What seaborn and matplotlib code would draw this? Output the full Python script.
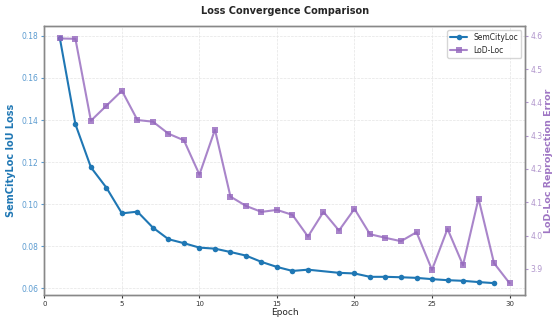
import matplotlib
matplotlib.use("Agg")
import matplotlib.pyplot as plt
import seaborn as sns
import pandas as pd

sns.set_style("whitegrid")
plt.rcParams['font.family'] = ['DejaVu Sans']

sem_epochs = [1, 2, 3, 4, 5, 6, 7, 8, 9, 10, 11, 12, 13, 14, 15, 16, 17,
              19, 20, 21, 22, 23, 24, 25, 26, 27, 28, 29]
sem_loss = [0.1788, 0.138, 0.1175, 0.1078, 0.0956, 0.0964, 0.0888, 0.0833,
            0.0814, 0.0793, 0.0788, 0.0772, 0.0755, 0.0725, 0.0701, 0.0682,
            0.0688, 0.0673, 0.0670, 0.0654, 0.0654, 0.0652, 0.0649, 0.0643,
            0.0638, 0.0635, 0.0629, 0.0624]

lod_epochs = list(range(1, 31))
lod_err = [4.592, 4.591, 4.345, 4.390, 4.435, 4.347, 4.342, 4.306, 4.286,
           4.183, 4.318, 4.117, 4.089, 4.071, 4.077, 4.062, 3.997, 4.071,
           4.015, 4.080, 4.004, 3.993, 3.983, 4.010, 3.897, 4.020, 3.911,
           4.111, 3.917, 3.857]

blue = "#1f77b4"
purple = "#9467bd"

sem_df = pd.DataFrame({"Epoch": sem_epochs, "Loss": sem_loss})
lod_df = pd.DataFrame({"Epoch": lod_epochs, "Err": lod_err})

fig, ax = plt.subplots(figsize=(5.55, 3.2), dpi=100)
ax2 = ax.twinx()

sns.lineplot(data=sem_df, x="Epoch", y="Loss", ax=ax, color=blue, marker="o",
             markersize=4, linewidth=1.5, markeredgewidth=0, label="SemCityLoc",
             legend=False)
sns.lineplot(data=lod_df, x="Epoch", y="Err", ax=ax2, color=purple, marker="s",
             markersize=5, linewidth=1.5, alpha=0.8, markeredgewidth=0,
             label="LoD-Loc", legend=False)

ax.set_xlim(0, 31)
ax.set_xticks([0, 5, 10, 15, 20, 25, 30])
ax.set_yticks([0.06, 0.08, 0.10, 0.12, 0.14, 0.16, 0.18])
ax2.set_yticks([3.9, 4.0, 4.1, 4.2, 4.3, 4.4, 4.5, 4.6])

ax.set_xlabel("Epoch", fontsize=6.5, labelpad=1)
ax.set_ylabel("SemCityLoc IoU Loss", fontsize=7, color=blue, fontweight="bold",
              labelpad=4)
ax2.set_ylabel("LoD-Loc Reprojection Error", fontsize=6.8, color=purple,
               fontweight="bold", alpha=0.9, labelpad=1)
ax.set_title("Loss Convergence Comparison", fontsize=7, fontweight="bold", pad=9)

ax.tick_params(axis="x", labelsize=5, length=2.5, pad=1.5, colors="#333333", bottom=True)
ax.tick_params(axis="y", labelsize=5.5, colors="#5b9bd0", length=2.5, pad=2, left=True)
ax2.tick_params(axis="y", labelsize=5.5, colors="#b095cc", length=2.5, pad=1.5, right=True)

ax.grid(True, linestyle="--", linewidth=0.5, color="#e4e4e4")
ax2.grid(False)

for a in (ax, ax2):
    for s in a.spines.values():
        s.set_color("#888888")
        s.set_linewidth(1.0)
    a.set_facecolor("none")

h1, l1 = ax.get_legend_handles_labels()
h2, l2 = ax2.get_legend_handles_labels()
leg = ax2.legend(h1 + h2, l1 + l2, loc="upper right", fontsize=5.5,
                 frameon=True, borderpad=0.4, handlelength=2.2)
leg.get_frame().set_edgecolor("#cccccc")

fig.subplots_adjust(left=0.08, right=0.946, top=0.918, bottom=0.077)
fig.savefig("out.png", dpi=100)
